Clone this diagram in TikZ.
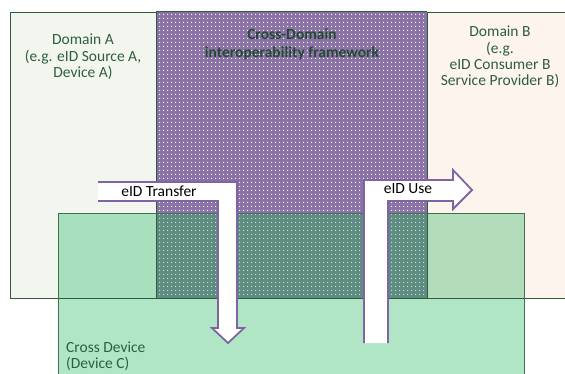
\documentclass[tikz,border=0pt]{standalone}
\usepackage{fontspec}
\setmainfont{Carlito}
\usetikzlibrary{patterns.meta}

\definecolor{edgegreen}{HTML}{2D5B3C}
\definecolor{textgreen}{HTML}{2E5E3E}
\definecolor{titlegreen}{HTML}{214A30}
\definecolor{domA}{HTML}{F3F6EE}
\definecolor{domB}{HTML}{FDF4EE}
\definecolor{devC}{HTML}{B0E6C6}
\definecolor{devCA}{HTML}{A8E0BE}
\definecolor{devCB}{HTML}{B2DCBA}
\definecolor{frame}{HTML}{8B72A6}
\definecolor{frameC}{HTML}{5F8C80}
\definecolor{dotC}{HTML}{C4E8D4}
\definecolor{arrowline}{HTML}{8064A2}

\tikzset{
  region/.style={draw=edgegreen, line width=1pt},
  dotted fill/.style={pattern={Dots[radius=0.85pt, distance=4pt]}},
  label text/.style={text=textgreen, font=\fontsize{15.5}{16.3}\selectfont, align=center, inner sep=0pt},
  arrow text/.style={text=black, font=\fontsize{15.5}{16.3}\selectfont, inner sep=0pt},
  arrow body/.style={fill=white},
  arrow edge/.style={draw=arrowline, line width=1.8pt, line join=miter},
}

\begin{document}
\begin{tikzpicture}[x=1pt, y=-1pt]
  \useasboundingbox (0,0) rectangle (565,374);
  \fill[white] (0,0) rectangle (565,374);

  % Domain A and Domain B
  \fill[domA] (10,13) rectangle (156,298);
  \fill[domB] (427,13) rectangle (575,298);

  % interoperability framework, dotted purple
  \fill[frame] (156,12) rectangle (427,298);
  \fill[dotted fill, pattern color=white] (156,12) rectangle (427,298);

  % Cross Device band and its overlaps
  \fill[devC] (58,214) rectangle (524,380);
  \fill[devCA] (58,214) rectangle (156,298);
  \fill[devCB] (427,214) rectangle (524,298);
  \fill[frameC] (156,214) rectangle (427,298);
  \fill[dotted fill, pattern color=dotC] (156,214) rectangle (427,298);

  % outlines
  \draw[region] (10,13) rectangle (156,298);
  \draw[region] (156,12) -- (427,12);
  \draw[region] (575,13) -- (427,13) -- (427,298) -- (575,298);
  \draw[region] (156,298) -- (427,298);
  \draw[region, draw=edgegreen!85!devC] (58,380) -- (58,214) -- (524,214) -- (524,380);

  % texts of the regions
  \node[label text] (domainA) at (83,57) {Domain A\\(e.g. eID Source A,\\Device A)};
  \node[label text, text=titlegreen, font=\fontsize{15.5}{18}\selectfont\bfseries] (framework) at (292,44)
    {Cross-Domain\\interoperability framework};
  \node[label text] (domainB) at (500,57) {Domain B\\(e.g.\\eID Consumer B\\Service Provider B)};
  \node[label text, align=left, anchor=west] (deviceC) at (66,356) {Cross Device\\(Device C)};

  % eID Transfer arrow (bent down)
  \fill[arrow body] (98,182) -- (237,182) -- (237,328) -- (244,328) -- (228,343)
    -- (212,328) -- (218,328) -- (218,201) -- (98,201) -- cycle;
  \draw[arrow edge] (98,182) -- (237,182) -- (237,328) -- (244,328) -- (228,343)
    -- (212,328) -- (218,328) -- (218,201) -- (98,201);
  \node[arrow text] (transfer) at (159,191) {eID Transfer};

  % eID Use arrow (bent right)
  \fill[arrow body] (364,343) -- (364,180) -- (453,180) -- (453,170) -- (472,190)
    -- (453,209) -- (453,201) -- (388,201) -- (388,343) -- cycle;
  \draw[arrow edge] (364,343) -- (364,180) -- (453,180) -- (453,170) -- (472,190)
    -- (453,209) -- (453,201) -- (388,201) -- (388,343);
  \node[arrow text] (use) at (408,189) {eID Use};
\end{tikzpicture}
\end{document}
